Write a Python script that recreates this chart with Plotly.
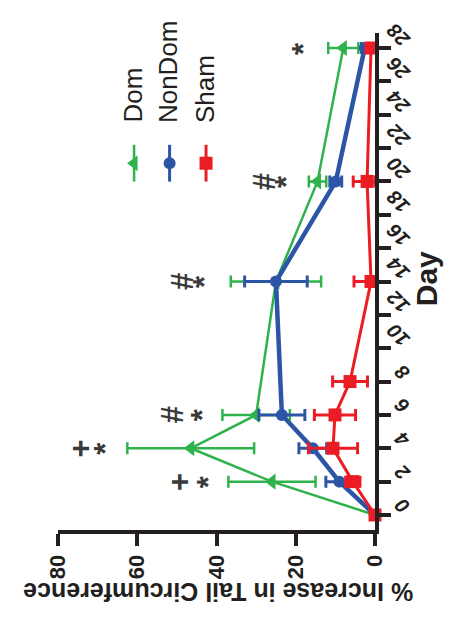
import plotly.graph_objects as go

days = [0, 2, 4, 6, 8, 14, 20, 28]
dom_days = [0, 2, 4, 6, 14, 20, 28]
dom_mean = [0, 26, 46.5, 30, 25, 14.5, 8]
dom_err = [0, 11, 16, 8.5, 11.4, 2.2, 3.8]
nondom_days = [0, 2, 4, 6, 14, 20, 28]
nondom_mean = [0, 9, 15.7, 23.5, 25, 9.9, 2.6]
nondom_err = [0, 3.4, 3.5, 5.8, 7.9, 1.5, 0.8]
sham_days = [0, 2, 4, 6, 8, 14, 20, 28]
sham_mean = [0, 5.6, 10.6, 10.1, 6.3, 1.0, 2.0, 1.0]
sham_err = [0, 1.8, 6.2, 5.2, 4.4, 4.3, 3.5, 0.8]

day_ticks = list(range(0, 30, 2))
pct_ticks = [0, 20, 40, 60, 80]

GREEN = "#2fb24b"
BLUE = "#2d55a5"
RED = "#ec1c24"
AXC = "#231f20"
SIG = "#3a3a3a"

def minus(m, e):
    return [min(a, b) for a, b in zip(e, m)]

fig = go.Figure()
series = [
    ("Dom", dom_days, dom_mean, dom_err, GREEN, "triangle-left", 14, 2.5, 2.5),
    ("NonDom", nondom_days, nondom_mean, nondom_err, BLUE, "circle", 12, 4.5, 3),
    ("Sham", sham_days, sham_mean, sham_err, RED, "square", 13, 3, 3),
]
for name, d, m, e, col, sym, ms, lw, ew in series:
    fig.add_trace(go.Scatter(
        x=m, y=d, mode="lines+markers", name=name,
        line=dict(color=col, width=lw),
        marker=dict(symbol=sym, size=ms, color=col),
        error_x=dict(type="data", array=e, arrayminus=minus(m, e),
                     color=col, thickness=ew, width=6),
        cliponaxis=False, showlegend=False,
    ))

# legend samples on an overlay axis
leg_x = [0.240, 0.352, 0.467]
for (name, d, m, e, col, sym, ms, lw, ew), lx in zip(series, leg_x):
    fig.add_trace(go.Scatter(
        x=[lx], y=[0.738], mode="markers", xaxis="x2", yaxis="y2",
        marker=dict(symbol=sym, size=ms, color=col),
        error_y=dict(type="constant", value=0.037, color=col, thickness=ew, width=0),
        showlegend=False, hoverinfo="skip", cliponaxis=False,
    ))
    fig.add_annotation(xref="paper", yref="paper", x=lx - 0.003, y=0.815,
                       text=name, textangle=-90, showarrow=False,
                       xanchor="center", yanchor="bottom",
                       font=dict(family="Liberation Sans, Arial", size=26, color="#231f20"))

sig = [
    (42, 2, "*"), (49.4, 2, "+"),
    (68, 4, "*"), (74.4, 4, "+"),
    (43.3, 6, "*"), (50.9, 6, "#"),
    (43, 14, "*"), (48.6, 14, "#"),
    (22.3, 20, "*"), (27.8, 20, "#"),
    (18.2, 28, "*"),
]
for sx, sy, t in sig:
    fig.add_annotation(x=sx, y=sy, text="<b>%s</b>" % t, textangle=-90, showarrow=False,
                       font=dict(family="Liberation Sans, Arial", size=31, color=SIG))

fig.add_annotation(xref="paper", yref="paper", x=0.505, y=-0.157,
                   text="<b>% Increase in Tail Circumference</b>", textangle=180,
                   showarrow=False, font=dict(family="Liberation Sans, Arial", size=25, color="#231f20"))
fig.add_annotation(xref="paper", yref="paper", x=1.22, y=0.505,
                   text="<b>Day</b>", textangle=-90,
                   showarrow=False, font=dict(family="Liberation Sans, Arial", size=30, color="#231f20"))

fig.update_layout(
    width=457, height=623,
    margin=dict(l=50, r=90, t=25, b=101),
    plot_bgcolor="white", paper_bgcolor="white",
    xaxis=dict(range=[80, 0], tickvals=pct_ticks, ticks="outside", ticklen=12, tickwidth=4,
               tickcolor=AXC, showline=True, linewidth=4, linecolor=AXC, showgrid=False,
               zeroline=False, tickangle=-90,
               tickfont=dict(family="Liberation Sans, Arial", size=22, color=AXC, weight="bold")),
    yaxis=dict(range=[-0.9, 28.9], tickvals=day_ticks, side="right", ticks="outside",
               ticklen=12, tickwidth=4, tickcolor=AXC, showline=True, linewidth=4,
               linecolor=AXC, showgrid=False, zeroline=False, tickangle=-135,
               ticklabelstandoff=9,
               tickfont=dict(family="Liberation Sans, Arial", size=20, color=AXC,
                             weight="bold", style="italic")),
    xaxis2=dict(overlaying="x", range=[0, 1], visible=False, anchor="y2"),
    yaxis2=dict(overlaying="y", range=[0, 1], visible=False, anchor="x2"),
)

fig.write_html("out.html")
